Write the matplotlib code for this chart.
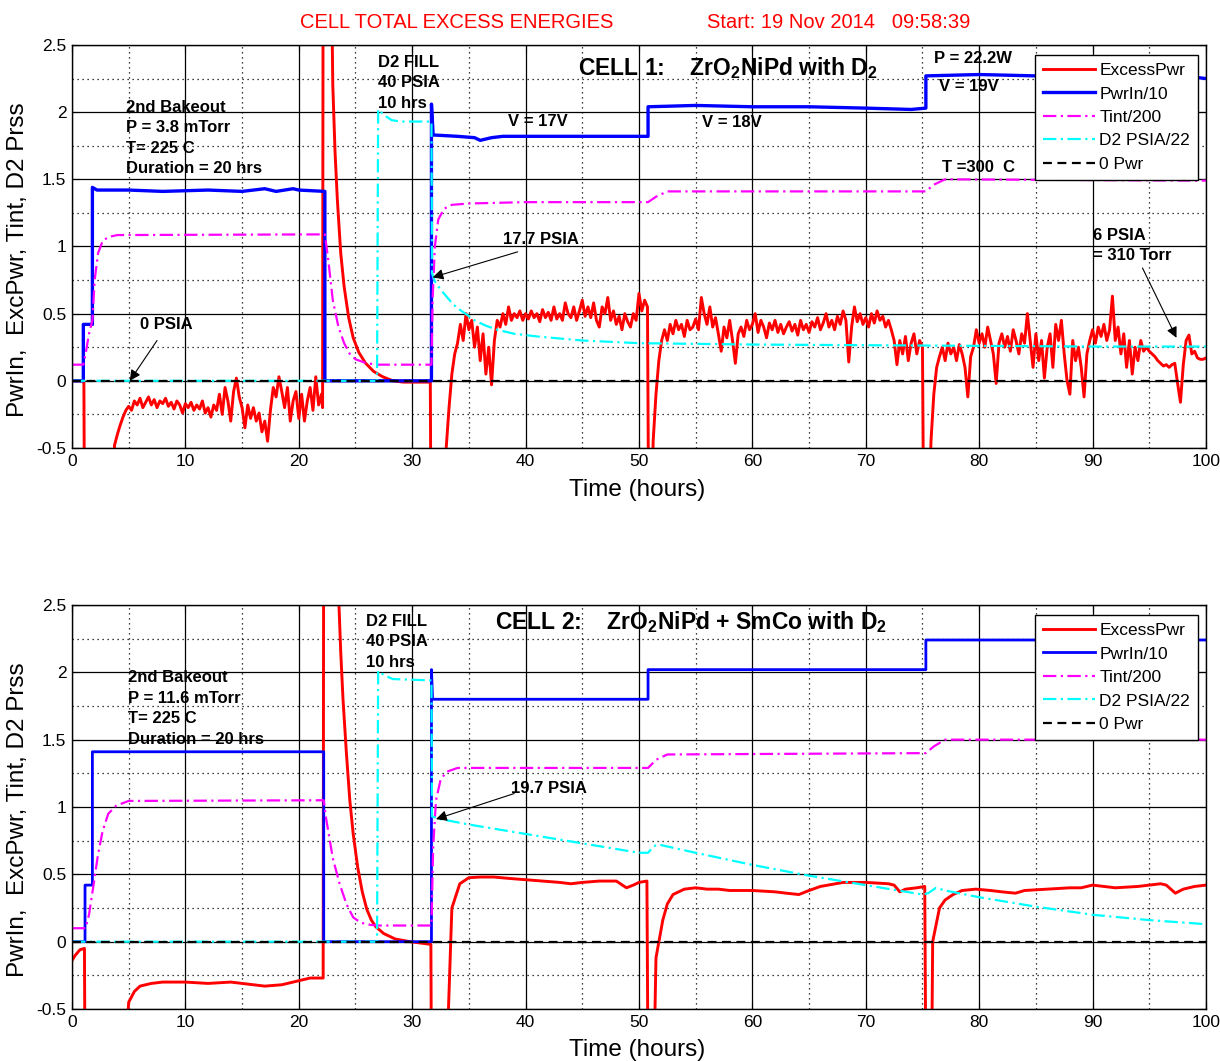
import numpy as np
import matplotlib
matplotlib.use("Agg")
import matplotlib.pyplot as plt
from matplotlib.ticker import MultipleLocator, FuncFormatter

plt.rcParams['font.family'] = ['Liberation Sans', 'DejaVu Sans']
plt.rcParams['mathtext.fontset'] = 'custom'
plt.rcParams['mathtext.rm'] = 'Liberation Sans:bold'
plt.rcParams['mathtext.it'] = 'Liberation Sans:bold'
plt.rcParams['mathtext.bf'] = 'Liberation Sans:bold'

# ---------------------------------------------------------------- data
SAMPLE_DT = 0.25          # logging interval of the excess power record (h)
OFF = -1.0                # readings below the plotted range

zero_t = [0, 100]
zero_v = [0, 0]

# ---- Cell 1 -------------------------------------------------------------
pwr1_t = [0, 1.0, 1.0, 1.8, 1.8, 2.2, 5, 8, 12, 15, 17, 18, 19.5, 20, 22.3, 22.3,
          31.7, 31.7, 31.85, 34, 35.5, 36, 37, 38, 45, 50.8, 50.8, 55, 60, 65, 70,
          74, 75.3, 75.3, 80, 85, 90, 95, 98, 100]
pwr1_v = [0, 0, 0.42, 0.42, 1.44, 1.42, 1.42, 1.41, 1.42, 1.41, 1.43, 1.41, 1.43,
          1.42, 1.41, 0, 0, 2.06, 1.83, 1.82, 1.81, 1.79, 1.81, 1.82, 1.82, 1.82,
          2.04, 2.05, 2.04, 2.04, 2.03, 2.02, 2.03, 2.27, 2.28, 2.27, 2.27, 2.28,
          2.27, 2.25]

tint1_t = [0, 1.0, 1.2, 1.5, 1.8, 2.0, 2.3, 2.7, 3.2, 4, 22.3, 22.6, 23.0, 23.5,
           24.0, 24.5, 25.0, 26.0, 27, 31.7, 31.8, 32.0, 32.3, 32.8, 33.5, 35, 40,
           50.8, 51.5, 52.5, 75.3, 76.0, 77, 100]
tint1_v = [0.12, 0.12, 0.2, 0.35, 0.45, 0.75, 0.95, 1.04, 1.07, 1.085, 1.09, 0.9,
           0.6, 0.4, 0.28, 0.2, 0.16, 0.13, 0.12, 0.12, 0.6, 1.0, 1.2, 1.28, 1.31,
           1.32, 1.33, 1.33, 1.37, 1.41, 1.41, 1.46, 1.50, 1.49]

d2_1_t = [0, 26.9, 27.0, 27.5, 28.2, 29, 31.7, 31.75, 32.0, 32.5, 33, 33.5, 34,
          34.7, 35.5, 36.5, 37.5, 39, 41, 45, 50, 60, 70, 80, 90, 100]
d2_1_v = [0, 0, 2.02, 1.98, 1.94, 1.93, 1.93, 0.80, 0.74, 0.68, 0.63, 0.58, 0.54,
          0.50, 0.45, 0.41, 0.38, 0.35, 0.33, 0.30, 0.28, 0.27, 0.265, 0.26, 0.255,
          0.255]

# excess power, cell 1: smooth pieces as (t, v), noisy stretches as samples
exc1_start_t = [0, 1.05, 1.1, 3.6]
exc1_start_v = [0, 0, OFF, OFF]

exc1_bake_t0 = 3.75
exc1_bake = [-0.48, -0.40, -0.33, -0.27, -0.22, -0.19, -0.22, -0.15, -0.18, -0.13,
             -0.20, -0.16, -0.12, -0.18, -0.14, -0.20, -0.15, -0.17, -0.13, -0.19,
             -0.16, -0.21, -0.15, -0.18, -0.24, -0.17, -0.20, -0.16, -0.22, -0.18,
             -0.21, -0.15, -0.24, -0.20, -0.27, -0.18, -0.22, -0.10, -0.25, -0.05,
             -0.15, -0.30, -0.08, 0.02, -0.12, -0.20, -0.35, -0.18, -0.28, -0.20,
             -0.30, -0.24, -0.38, -0.30, -0.45, -0.22, -0.05, -0.12, 0.03, -0.08,
             -0.20, -0.05, -0.30, -0.15, -0.08, -0.28, -0.10, -0.30, -0.15, -0.05,
             -0.22, 0.03, -0.18, -0.10]

exc1_fill_t = [22.1, 22.15, 22.8, 22.9, 23.0, 23.2, 23.4, 23.7, 24.0, 24.4, 24.8,
               25.3, 25.9, 26.6, 27.4, 28.3, 29.2, 31.6, 31.65, 32.9]
exc1_fill_v = [-0.2, 3.5, 3.5, 2.9, 2.2, 1.7, 1.35, 0.95, 0.7, 0.47, 0.32, 0.21,
               0.13, 0.07, 0.03, 0.0, -0.01, -0.01, OFF, OFF]

exc1_v17_t0 = 33.0
exc1_v17 = [-0.5, -0.2, 0.05, 0.2, 0.28, 0.42, 0.3, 0.5, 0.38, 0.45, 0.25, 0.4,
            0.15, 0.35, 0.05, 0.25, -0.03, 0.3, 0.45, 0.4, 0.5, 0.42, 0.55, 0.45,
            0.5, 0.47, 0.52, 0.45, 0.5, 0.46, 0.52, 0.47, 0.5, 0.44, 0.53, 0.47,
            0.51, 0.45, 0.55, 0.46, 0.5, 0.45, 0.58, 0.5, 0.47, 0.55, 0.45, 0.52,
            0.6, 0.48, 0.55, 0.47, 0.58, 0.45, 0.4, 0.55, 0.5, 0.62, 0.45, 0.52,
            0.42, 0.48, 0.38, 0.5, 0.44, 0.4, 0.5, 0.45, 0.65, 0.52, 0.6, 0.55]

exc1_step18_t = [50.85, 51.1]
exc1_step18_v = [OFF, OFF]

exc1_v18_t0 = 51.25
exc1_v18 = [-0.45, -0.1, 0.15, 0.3, 0.38, 0.3, 0.42, 0.35, 0.45, 0.38, 0.42, 0.33,
            0.45, 0.38, 0.4, 0.46, 0.38, 0.62, 0.5, 0.42, 0.55, 0.4, 0.47, 0.35,
            0.22, 0.4, 0.32, 0.45, 0.3, 0.13, 0.35, 0.4, 0.33, 0.45, 0.38, 0.42,
            0.5, 0.36, 0.45, 0.4, 0.32, 0.43, 0.38, 0.45, 0.36, 0.42, 0.35, 0.4,
            0.44, 0.37, 0.42, 0.34, 0.45, 0.38, 0.42, 0.36, 0.44, 0.4, 0.47, 0.38,
            0.43, 0.5, 0.4, 0.45, 0.38, 0.48, 0.42, 0.52, 0.45, 0.14, 0.4, 0.55,
            0.44, 0.5, 0.42, 0.47, 0.4, 0.5, 0.43, 0.52, 0.45, 0.48, 0.4, 0.45,
            0.38, 0.3, 0.12, 0.3, 0.2, 0.33, 0.15, 0.28, 0.35, 0.2, 0.3, 0.25]

exc1_step19_t = [75.1, 75.6]
exc1_step19_v = [OFF, OFF]

exc1_v19_t0 = 75.75
exc1_v19 = [-0.45, -0.1, 0.1, 0.18, 0.25, 0.15, 0.28, 0.2, 0.25, 0.15, 0.27, 0.2,
            0.1, -0.12, 0.18, 0.25, 0.38, 0.28, 0.35, 0.25, 0.4, 0.3, 0.2, -0.02,
            0.28, 0.35, 0.25, 0.33, 0.22, 0.38, 0.3, 0.2, 0.35, 0.28, 0.5, 0.3,
            0.1, 0.35, 0.15, 0.3, 0.02, 0.25, 0.35, 0.1, 0.42, 0.3, 0.45, 0.2,
            0.0, -0.1, 0.3, 0.15, 0.25, 0.1, -0.12, 0.2, 0.3, 0.38, 0.28, 0.4,
            0.33, 0.42, 0.3, 0.38, 0.63, 0.3, 0.4, 0.2, 0.35, 0.1, 0.3, 0.05,
            0.25, 0.15, 0.3, 0.22, 0.25, 0.22, 0.2, 0.18, 0.15, 0.13, 0.11, 0.12,
            0.1, 0.12, 0.13, -0.02, -0.16, 0.12, 0.3, 0.34, 0.2, 0.22, 0.17, 0.16,
            0.16, 0.17]

# ---- Cell 2 -------------------------------------------------------------
pwr2_t = [0, 1.15, 1.15, 1.8, 1.8, 22.2, 22.2, 31.7, 31.7, 31.8, 50.8, 50.8, 75.3,
          75.3, 100]
pwr2_v = [0, 0, 0.42, 0.42, 1.41, 1.41, 0, 0, 2.02, 1.80, 1.80, 2.02, 2.02, 2.24,
          2.24]

tint2_t = [0, 1.2, 1.5, 1.9, 2.3, 2.7, 3.2, 3.9, 5, 22.2, 22.4, 23.0, 23.6, 24.2,
           24.8, 25.5, 26.3, 27, 31.7, 31.85, 32.1, 32.5, 33, 34, 50.8, 51.5, 52.5,
           75.3, 76.0, 77, 100]
tint2_v = [0.1, 0.1, 0.2, 0.42, 0.65, 0.82, 0.95, 1.01, 1.045, 1.05, 0.92, 0.62,
           0.43, 0.28, 0.18, 0.14, 0.125, 0.12, 0.12, 0.7, 1.05, 1.2, 1.26, 1.29,
           1.29, 1.35, 1.39, 1.40, 1.45, 1.50, 1.50]

d2_2_t = [0, 26.9, 27.0, 27.5, 28.3, 31.7, 31.75, 32.5, 35, 40, 45, 50, 50.8, 51.3,
          51.8, 55, 60, 65, 70, 75, 75.5, 76.2, 77, 80, 85, 90, 95, 100]
d2_2_v = [0, 0, 2.01, 1.98, 1.95, 1.94, 0.93, 0.91, 0.87, 0.80, 0.73, 0.66, 0.66,
          0.71, 0.72, 0.66, 0.57, 0.49, 0.42, 0.35, 0.36, 0.40, 0.38, 0.33, 0.26,
          0.20, 0.16, 0.13]

exc2_t = [0, 0.3, 0.7, 1.1, 1.15, 4.6, 5.0, 5.5, 6.0, 7, 8, 10, 12, 14, 15, 17,
          18.5, 20, 21, 22.15, 22.2, 23.3, 23.5, 23.7, 23.9, 24.2, 24.5, 24.8,
          25.2, 25.6, 26.0, 26.4, 26.8, 27.5, 28.5, 29.8, 31.65, 31.7, 33.0, 33.5,
          34.2, 35.0, 36, 37.2, 38.5, 40, 41.5, 43, 44, 45, 46.5, 48, 48.9, 49.5,
          50.0, 50.7, 50.8, 51.3, 51.5, 52.1, 52.5, 53, 54, 55, 56, 57, 58, 60, 62,
          63, 64.1, 65, 66, 68, 70, 72, 72.5, 73, 73.5, 74.5, 75.2, 75.3, 75.8,
          75.9, 76.5, 77, 77.7, 78.5, 79.7, 81, 82, 83.2, 84, 86, 88, 89, 90, 91,
          92, 94, 96, 96.5, 97.3, 98, 99, 100]
exc2_v = [-0.14, -0.1, -0.06, -0.05, OFF, OFF, -0.45, -0.37, -0.33, -0.31, -0.30,
          -0.30, -0.31, -0.30, -0.31, -0.33, -0.32, -0.29, -0.27, -0.27, 3.5, 3.5,
          2.6, 2.15, 1.8, 1.4, 1.05, 0.8, 0.55, 0.37, 0.24, 0.16, 0.11, 0.06, 0.02,
          0.0, -0.02, OFF, OFF, 0.25, 0.43, 0.475, 0.48, 0.48, 0.47, 0.46, 0.45,
          0.44, 0.43, 0.44, 0.45, 0.45, 0.40, 0.42, 0.44, 0.45, OFF, OFF, -0.12,
          0.16, 0.28, 0.35, 0.39, 0.40, 0.39, 0.39, 0.38, 0.38, 0.37, 0.36, 0.35,
          0.38, 0.41, 0.44, 0.44, 0.43, 0.42, 0.37, 0.39, 0.40, 0.41, OFF, OFF,
          0.0, 0.25, 0.31, 0.35, 0.38, 0.39, 0.38, 0.37, 0.36, 0.38, 0.39, 0.40,
          0.40, 0.42, 0.41, 0.40, 0.41, 0.43, 0.42, 0.36, 0.39, 0.41, 0.42]


def sampled(t0, values):
    t = t0 + SAMPLE_DT * np.arange(len(values))
    return list(t), list(values)


def join(*parts):
    ts, vs = [], []
    for t, v in parts:
        ts += list(t)
        vs += list(v)
    return np.array(ts), np.array(vs)


exc1_t, exc1_v = join((exc1_start_t, exc1_start_v),
                      sampled(exc1_bake_t0, exc1_bake),
                      (exc1_fill_t, exc1_fill_v),
                      sampled(exc1_v17_t0, exc1_v17),
                      (exc1_step18_t, exc1_step18_v),
                      sampled(exc1_v18_t0, exc1_v18),
                      (exc1_step19_t, exc1_step19_v),
                      sampled(exc1_v19_t0, exc1_v19))

# ---------------------------------------------------------------- figure
DASHDOT = (0, (6, 2, 1, 2))
DASHED = (0, (4, 2.5))
BOLD = dict(fontsize=12, fontweight='bold', color='k', linespacing=1.45)
ARROW = dict(arrowstyle='-|>', color='k', lw=0.8, mutation_scale=16,
             shrinkA=0, shrinkB=0)

fig = plt.figure(figsize=(12.2, 10.61), dpi=100)
ax1 = fig.add_axes([0.0590, 0.5778, 0.9295, 0.3798])
ax2 = fig.add_axes([0.0590, 0.0490, 0.9295, 0.3808])


def draw(ax, et, ev, pt, pv, tt, tv, dt, dv, pwr_lw):
    ax.plot(et, ev, color='#ff0000', lw=2.1, label='ExcessPwr')
    ax.plot(pt, pv, color='#0000ff', lw=pwr_lw, label='PwrIn/10')
    ax.plot(tt, tv, color='#ff00ff', lw=1.6, ls=DASHDOT, label='Tint/200')
    ax.plot(dt, dv, color='#00ffff', lw=1.6, ls=DASHDOT, label='D2 PSIA/22')
    ax.plot(zero_t, zero_v, color='k', lw=1.6, ls=DASHED, label='0 Pwr')
    ax.set_xlim(0, 100)
    ax.set_ylim(-0.5, 2.5)
    ax.xaxis.set_major_locator(MultipleLocator(10))
    ax.xaxis.set_minor_locator(MultipleLocator(5))
    ax.yaxis.set_major_locator(MultipleLocator(0.5))
    ax.yaxis.set_minor_locator(MultipleLocator(0.25))
    ax.yaxis.set_major_formatter(FuncFormatter(lambda v, p: '%g' % v))
    ax.xaxis.set_major_formatter(FuncFormatter(lambda v, p: '%g' % v))
    ax.tick_params(which='major', direction='in', top=True, right=True,
                   labelsize=12.5, length=5, width=0.8, pad=4)
    ax.tick_params(which='minor', length=0)
    ax.grid(which='major', color='k', lw=0.9, ls='-')
    ax.grid(which='minor', color='k', lw=0.9, ls=(0, (1, 3)))
    ax.set_axisbelow(True)
    for s in ax.spines.values():
        s.set_linewidth(1.0)
        s.set_color('k')
    leg = ax.legend(loc='upper right', bbox_to_anchor=(0.993, 0.975),
                    borderaxespad=0, fontsize=12.5, handlelength=3.0,
                    handletextpad=0.25, labelspacing=0.48, borderpad=0.45,
                    fancybox=False, framealpha=1, edgecolor='k')
    leg.get_frame().set_linewidth(1.0)


draw(ax1, exc1_t, exc1_v, pwr1_t, pwr1_v, tint1_t, tint1_v, d2_1_t, d2_1_v, 2.4)
draw(ax2, exc2_t, exc2_v, pwr2_t, pwr2_v, tint2_t, tint2_v, d2_2_t, d2_2_v, 2.0)

# ---- annotations, cell 1
ax1.text(4.76, 2.09, '2nd Bakeout\nP = 3.8 mTorr\nT= 225 C\nDuration = 20 hrs',
         ha='left', va='top', **BOLD)
ax1.text(26.98, 2.425, 'D2 FILL\n40 PSIA\n10 hrs', ha='left', va='top', **BOLD)
ax1.text(44.6, 2.33, 'CELL 1:    $\\mathrm{ZrO_2NiPd}$ with $\\mathrm{D_2}$',
         ha='left', va='center', fontsize=16.5, fontweight='bold')
ax1.text(38.45, 1.93, 'V = 17V', ha='left', va='center', **BOLD)
ax1.text(55.6, 1.92, 'V = 18V', ha='left', va='center', **BOLD)
ax1.text(76.0, 2.40, 'P = 22.2W', ha='left', va='center', **BOLD)
ax1.text(76.5, 2.19, 'V = 19V', ha='left', va='center', **BOLD)
ax1.text(76.7, 1.59, 'T =300  C', ha='left', va='center', **BOLD)
ax1.text(38.0, 1.055, '17.7 PSIA', ha='left', va='center', **BOLD)
ax1.text(6.0, 0.42, '0 PSIA', ha='left', va='center', **BOLD)
ax1.text(90.0, 1.08, '6 PSIA', ha='left', va='center', **BOLD)
ax1.text(90.0, 0.93, '= 310 Torr', ha='left', va='center', **BOLD)
ax1.annotate('', xy=(31.8, 0.77), xytext=(39.3, 0.96), arrowprops=ARROW)
ax1.annotate('', xy=(5.1, 0.0), xytext=(7.5, 0.30), arrowprops=ARROW)
ax1.annotate('', xy=(97.4, 0.32), xytext=(94.4, 0.84), arrowprops=ARROW)

# ---- annotations, cell 2
ax2.text(4.9, 2.015, '2nd Bakeout\nP = 11.6 mTorr\nT= 225 C\nDuration = 20 hrs',
         ha='left', va='top', **BOLD)
ax2.text(25.9, 2.433, 'D2 FILL\n40 PSIA\n10 hrs', ha='left', va='top', **BOLD)
ax2.text(37.3, 2.37, 'CELL 2:    $\\mathrm{ZrO_2NiPd}$ + SmCo with $\\mathrm{D_2}$',
         ha='left', va='center', fontsize=16.5, fontweight='bold')
ax2.text(38.7, 1.14, '19.7 PSIA', ha='left', va='center', **BOLD)
ax2.annotate('', xy=(32.1, 0.91), xytext=(39.0, 1.10), arrowprops=ARROW)

# ---- titles and axis labels
fig.text(457 / 1220, 1 - 22 / 1061, 'CELL TOTAL EXCESS ENERGIES', color='#ff0000',
         ha='center', va='center', fontsize=14.5)
fig.text(707 / 1220, 1 - 22 / 1061, 'Start: 19 Nov 2014   09:58:39', color='#ff0000',
         ha='left', va='center', fontsize=14.5)
ylab = 'PwrIn,  ExcPwr, Tint, D2 Prss'
fig.text(18 / 1220, 1 - 260 / 1061, ylab, rotation=90, ha='center', va='center',
         fontsize=17.5)
fig.text(18 / 1220, 1 - 820 / 1061, ylab, rotation=90, ha='center', va='center',
         fontsize=17.5)
fig.text(637 / 1220, 1 - 490 / 1061, 'Time (hours)', ha='center', va='center',
         fontsize=17.5)
fig.text(637 / 1220, 1 - 1050 / 1061, 'Time (hours)', ha='center', va='center',
         fontsize=17.5)

fig.savefig('out.png', dpi=100, facecolor='white')
